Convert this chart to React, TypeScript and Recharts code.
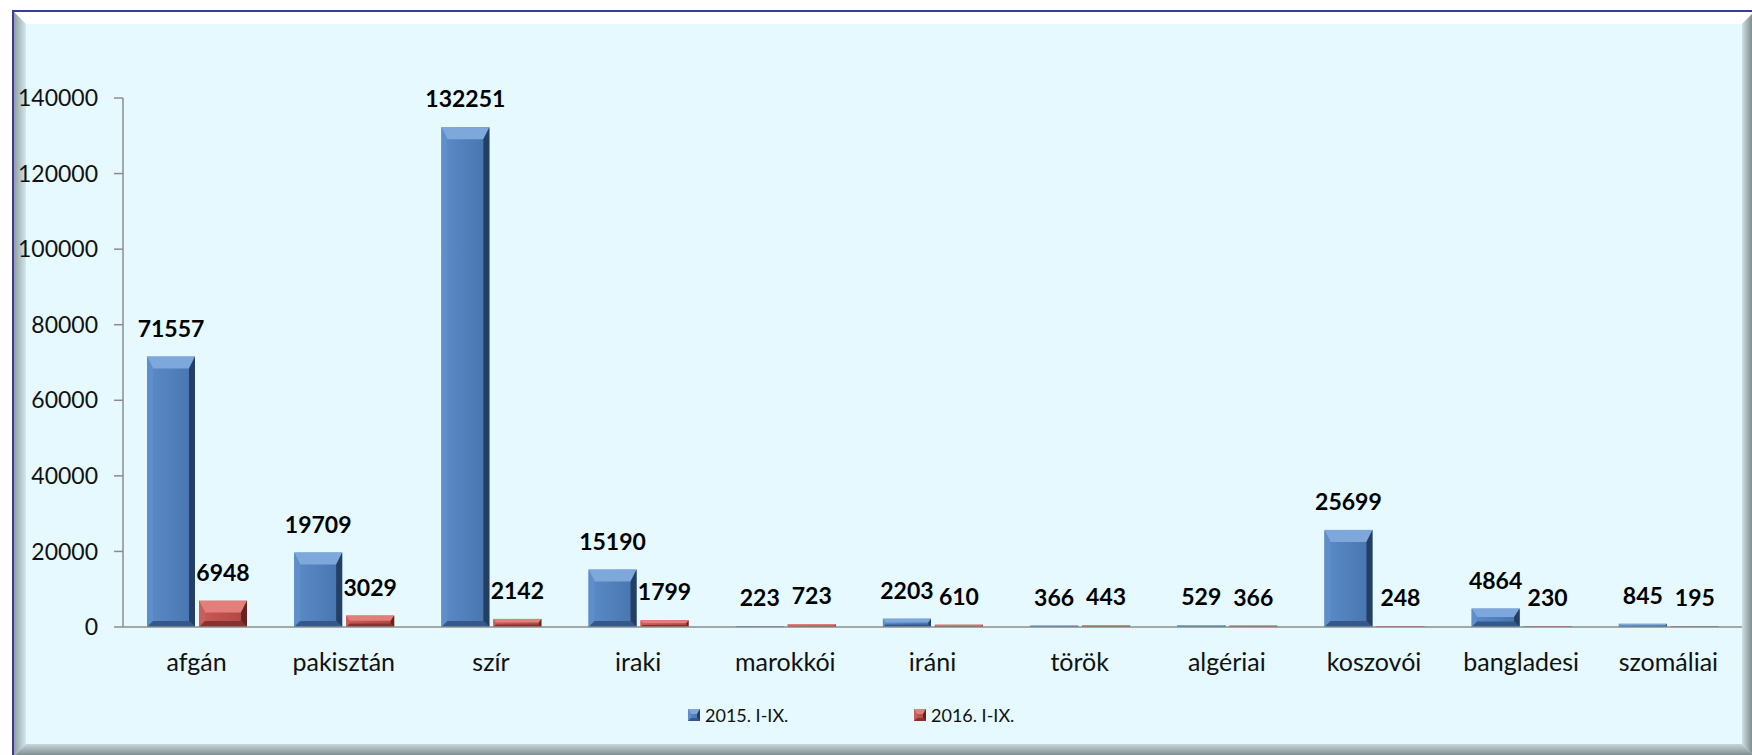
import React from 'react';
import { BarChart, Bar, XAxis, YAxis, LabelList, Legend } from 'recharts';

const categories = ['afgán', 'pakisztán', 'szír', 'iraki', 'marokkói', 'iráni', 'török', 'algériai', 'koszovói', 'bangladesi', 'szomáliai'];
const values2015 = [71557, 19709, 132251, 15190, 223, 2203, 366, 529, 25699, 4864, 845];
const values2016 = [6948, 3029, 2142, 1799, 723, 610, 443, 366, 248, 230, 195];
const yTicks = [0, 20000, 40000, 60000, 80000, 100000, 120000, 140000];
const seriesNames = ['2015. I-IX.', '2016. I-IX.'];

const BLUE = { face: '#4F81BD', faceL: '#5A8BC9', faceR: '#4874AD', top: '#7EA7DB', left: '#5F8ECB', right: '#233F64', bottom: '#34588A' };
const RED = { face: '#C0504D', faceL: '#C95A57', faceR: '#B04643', top: '#E47E7B', left: '#C95E5B', right: '#672321', bottom: '#853331' };

const data = categories.map((name, i) => ({ name, v2015: values2015[i], v2016: values2016[i] }));

const FONT = 'Lato, "Liberation Sans", sans-serif';

// bar with a simple bevel (light top, dark right/bottom edges)
const BevelBar = (props: any) => {
  const { x, y, width, height, pal, id, bt = 12, bs = 6 } = props;
  if (!height || height <= 0 || !width) return null;
  const t = Math.min(bt, height * 0.45);
  const s = Math.min(bs, width / 4, height * 0.3);
  const x2 = x + width;
  const y2 = y + height;
  const gid = `face-${id}`;
  return (
    <g>
      <defs>
        <linearGradient id={gid} x1="0" y1="0" x2="1" y2="0">
          <stop offset="0" stopColor={pal.faceL} />
          <stop offset="1" stopColor={pal.faceR} />
        </linearGradient>
      </defs>
      <rect x={x} y={y} width={width} height={height} fill={`url(#${gid})`} />
      <polygon points={`${x},${y} ${x2},${y} ${x2 - s},${y + t} ${x + s},${y + t}`} fill={pal.top} />
      <polygon points={`${x},${y} ${x + s},${y + t} ${x + s},${y2 - s} ${x},${y2}`} fill={pal.left} />
      <polygon points={`${x2},${y} ${x2},${y2} ${x2 - s},${y2 - s} ${x2 - s},${y + t}`} fill={pal.right} />
      <polygon points={`${x},${y2} ${x + s},${y2 - s} ${x2 - s},${y2 - s} ${x2},${y2}`} fill={pal.bottom} />
    </g>
  );
};

const LegendContent = () => (
  <div style={{ display: 'flex', fontFamily: FONT, fontSize: 18, color: '#111', lineHeight: '22px' }}>
    {seriesNames.map((n, i) => (
      <div key={n} style={{ display: 'flex', alignItems: 'center', width: 226 }}>
        <svg width={12} height={12} style={{ marginRight: 5 }}>
          <BevelBar x={0} y={0} width={12} height={12} pal={i === 0 ? BLUE : RED} id={`leg${i}`} bt={5} bs={4} />
        </svg>
        <span>{n}</span>
      </div>
    ))}
  </div>
);

const frameX0 = 14, frameY0 = 12, frameX1 = 1754, frameY1 = 756, bev = 12;
const W = frameX1 - frameX0, H = frameY1 - frameY0;

const bevelSide = (clip: string, bg: string): React.CSSProperties => ({
  position: 'absolute', left: 0, top: 0, width: W, height: H, clipPath: clip, background: bg,
});

export default function App() {
  return (
    <div style={{ position: 'absolute', left: 0, top: 0, width: 1752, height: 755, background: '#fff', overflow: 'hidden', fontFamily: FONT }}>
      <div style={{ position: 'absolute', left: frameX0 - 2, top: frameY0 - 2, width: W + 2, height: H + 2, borderLeft: '2px solid #3A3A9C', borderTop: '2px solid #3A3A9C', boxSizing: 'border-box' }} />
      <div style={{ position: 'absolute', left: frameX0, top: frameY0, width: W, height: H, background: '#E5F9FE' }}>
        <div style={bevelSide(`polygon(0 0, ${W}px 0, ${W - bev}px ${bev}px, ${bev}px ${bev}px)`, 'linear-gradient(to bottom, #FFFFFF, #F4FDFF)')} />
        <div style={bevelSide(`polygon(0 0, ${bev}px ${bev}px, ${bev}px ${H - bev}px, 0 ${H}px)`, 'linear-gradient(to right, #8F9FA4 0px, #D4E8EC 12px, #D4E8EC 100%)')} />
        <div style={bevelSide(`polygon(${W}px 0, ${W}px ${H}px, ${W - bev}px ${H - bev}px, ${W - bev}px ${bev}px)`, `linear-gradient(to right, #CFE0E3 0px, #CFE0E3 ${W - bev}px, #6E7D80 100%)`)} />
        <div style={bevelSide(`polygon(0 ${H}px, ${bev}px ${H - bev}px, ${W - bev}px ${H - bev}px, ${W}px ${H}px)`, `linear-gradient(to bottom, #C8D8DA 0px, #C8D8DA ${H - bev}px, #7A898B 100%)`)} />
      </div>
      <div style={{ position: 'absolute', left: 0, top: 0 }}>
        <BarChart width={1752} height={755} data={data} margin={{ top: 98, right: 10, left: 0, bottom: 68 }} barSize={48} barGap={4}>
          <XAxis dataKey="name" height={60} tickLine={false} tickSize={0} tickMargin={26} interval={0}
            axisLine={{ stroke: '#8C8C8C', strokeWidth: 1.5 }} tick={{ fontSize: 25, fill: '#111', fontFamily: FONT }} />
          <YAxis width={123} domain={[0, 140000]} ticks={yTicks} tickSize={9} tickMargin={16}
            axisLine={{ stroke: '#8C8C8C', strokeWidth: 1.5 }} tickLine={{ stroke: '#8C8C8C', strokeWidth: 1.5 }}
            tick={{ fontSize: 23, fill: '#111', fontFamily: FONT }} />
          <Legend layout="horizontal" verticalAlign="middle" align="center" content={LegendContent}
            wrapperStyle={{ left: 688, top: 704, width: 500, height: 22 }} />
          <Bar dataKey="v2015" name={seriesNames[0]} fill={BLUE.face} isAnimationActive={false}
            shape={(p: any) => <BevelBar {...p} pal={BLUE} id={`b${p.index}`} />}>
            <LabelList dataKey="v2015" position="top" offset={20} style={{ fontSize: 23, fontWeight: 700, fill: '#000', fontFamily: FONT }} />
          </Bar>
          <Bar dataKey="v2016" name={seriesNames[1]} fill={RED.face} isAnimationActive={false}
            shape={(p: any) => <BevelBar {...p} pal={RED} id={`r${p.index}`} />}>
            <LabelList dataKey="v2016" position="top" offset={20} style={{ fontSize: 23, fontWeight: 700, fill: '#000', fontFamily: FONT }} />
          </Bar>
        </BarChart>
      </div>
    </div>
  );
}
